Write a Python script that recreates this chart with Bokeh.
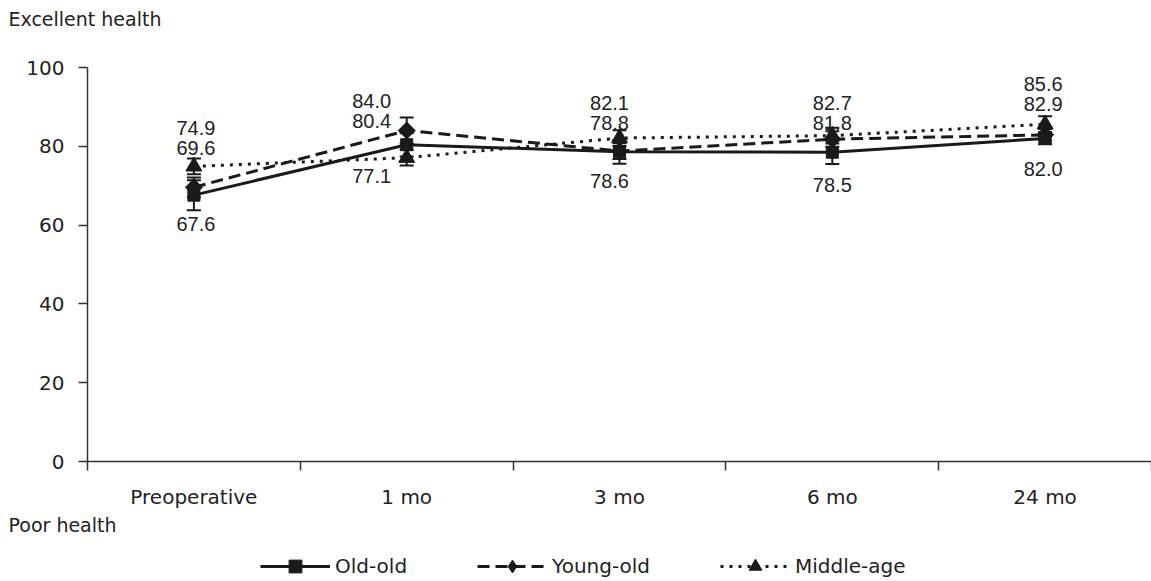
import math
from bokeh.plotting import figure
from bokeh.models import (FixedTicker, Label, Legend, LegendItem, Whisker,
                          TeeHead, ColumnDataSource, Range1d)
from bokeh.core.properties import value
from bokeh.embed import file_html
from bokeh.resources import INLINE

# Self-rated health score by age group over follow-up
categories = ["Preoperative", "1 mo", "3 mo", "6 mo", "24 mo"]
old_old = [67.6, 80.4, 78.6, 78.5, 82.0]
young_old = [69.6, 84.0, 78.8, 81.8, 82.9]
middle_age = [74.9, 77.1, 82.1, 82.7, 85.6]
old_old_se = [3.8, 3.0, 3.0, 3.0, 1.5]
young_old_se = [2.5, 3.3, 2.0, 2.0, 1.5]
middle_age_se = [2.0, 2.0, 2.0, 2.0, 2.0]
y_ticks = [0, 20, 40, 60, 80, 100]

# layout tweaks for the value labels (screen pixels)
label_dx = [2, -35, -10, 0, -2]
label_top_dy = [-38, -30, -35, -33, -40]
label_gap = 20
label_low_dy = [29, 18, 29, 33, 31]

INK = "#1a1a1a"
TEXT = "#222222"
AX_FONT = "DejaVu Sans"

W, H = 1151, 581
# plotting area inside the canvas: axes drawn at x=0 and y=0
LEFT, TOP, PW, PH = 87, 67, 1064, 394
n = len(categories)
kx = PW / n
ky = PH / 100.0
x_lo = -LEFT / kx
x_hi = x_lo + W / kx
y_hi = 100 + TOP / ky
y_lo = y_hi - H / ky

xs = [i + 0.5 for i in range(n)]

p = figure(width=W, height=H, x_range=Range1d(x_lo, x_hi), y_range=Range1d(y_lo, y_hi),
           output_backend="svg", toolbar_location=None, min_border=0)
p.background_fill_color = "white"
p.border_fill_color = "white"
p.outline_line_color = None
p.xgrid.visible = False
p.ygrid.visible = False

# x axis: boundary ticks as minor ticks, category names at the centres
xa = p.xaxis[0]
xa.fixed_location = 0
xa.bounds = (0, n)
xa.ticker = FixedTicker(ticks=xs, minor_ticks=list(range(n + 1)))
xa.major_label_overrides = {x: c for x, c in zip(xs, categories)}
xa.major_tick_line_color = None
xa.major_tick_in = 0
xa.major_tick_out = 0
xa.minor_tick_in = 0
xa.minor_tick_out = 9
xa.minor_tick_line_color = "#333333"
xa.minor_tick_line_width = 1.5
xa.axis_line_color = "#333333"
xa.axis_line_width = 1.5
xa.major_label_standoff = 14
xa.major_label_text_font = AX_FONT
xa.major_label_text_font_size = "20px"
xa.major_label_text_color = TEXT

ya = p.yaxis[0]
ya.fixed_location = 0
ya.bounds = (0, 100)
ya.ticker = FixedTicker(ticks=y_ticks)
ya.major_tick_in = 0
ya.major_tick_out = 9
ya.major_tick_line_color = "#333333"
ya.major_tick_line_width = 1.5
ya.minor_tick_line_color = None
ya.axis_line_color = "#333333"
ya.axis_line_width = 1.5
ya.major_label_standoff = 14
ya.major_label_text_font = AX_FONT
ya.major_label_text_font_size = "20px"
ya.major_label_text_color = TEXT

# (name, values, errors, dash, marker, size, angle, legend marker)
series = [
    ("Old-old", old_old, old_old_se, None, "square", 12, 0.0, "square"),
    ("Young-old", young_old, young_old_se, "12 6", "square", 12, math.pi / 4, "diamond"),
    ("Middle-age", middle_age, middle_age_se, "3 6", "triangle", 16, 0.0, "triangle"),
]

items = []
for name, vals, se, dash, marker, size, ang, key_marker in series:
    src = ColumnDataSource(dict(
        x=xs, y=vals,
        upper=[v + e for v, e in zip(vals, se)],
        lower=[v - e for v, e in zip(vals, se)],
    ))
    kw = dict(line_color=INK, line_width=3)
    if dash:
        kw["line_dash"] = dash
    ln = p.line("x", "y", source=src, **kw)
    w = Whisker(base="x", upper="upper", lower="lower", source=src,
                line_color=INK, line_width=2,
                upper_head=TeeHead(size=14, line_color=INK, line_width=2),
                lower_head=TeeHead(size=14, line_color=INK, line_width=2))
    p.add_layout(w)
    sc = p.scatter("x", "y", source=src, marker=marker, size=size, angle=ang,
                   fill_color=INK, line_color=INK)
    if key_marker != marker:
        # inner marker that also supplies the legend key shape
        key = p.scatter("x", "y", source=src, marker=key_marker, size=14,
                        fill_color=INK, line_color=INK)
        items.append(LegendItem(label=name, renderers=[ln, key]))
    else:
        items.append(LegendItem(label=name, renderers=[ln, sc]))

# value labels: two highest above the points, lowest below
lx, ly, lt, loff = [], [], [], []
for i in range(n):
    vals = sorted([old_old[i], young_old[i], middle_age[i]], reverse=True)
    top = vals[0]
    lx += [xs[i]] * 3
    ly += [top, top, vals[2]]
    lt += [f"{v:.1f}" for v in vals]
    loff += [label_top_dy[i], label_top_dy[i] + label_gap, label_low_dy[i]]
xoff = [label_dx[i // 3] for i in range(len(lx))]
lab_src = ColumnDataSource(dict(x=lx, y=ly, text=lt, yo=loff, xo=xoff))
p.text("x", "y", text="text", source=lab_src, x_offset="xo", y_offset="yo",
       text_align="center", text_baseline="alphabetic",
       text_font=value("Liberation Sans"), text_font_size="20px",
       text_color=TEXT)

# captions at the top and bottom of the scale
cap_x = x_lo + 8 / kx
p.add_layout(Label(x=cap_x, y=(PH + TOP - 18) / ky, text="Excellent health",
                   text_font=AX_FONT, text_font_size="19px",
                   text_color=TEXT, text_baseline="alphabetic"))
p.add_layout(Label(x=cap_x, y=(PH + TOP - 524) / ky, text="Poor health",
                   text_font=AX_FONT, text_font_size="19px",
                   text_color=TEXT, text_baseline="alphabetic"))

legend = Legend(items=items, orientation="horizontal", location=(260, -1),
                glyph_width=70, glyph_height=32, label_standoff=5, spacing=70,
                padding=0, margin=0, border_line_color=None,
                background_fill_alpha=0,
                label_text_font=AX_FONT, label_text_font_size="20px",
                label_text_color=TEXT)
p.add_layout(legend)

open("out.html", "w").write(file_html(p, INLINE))
